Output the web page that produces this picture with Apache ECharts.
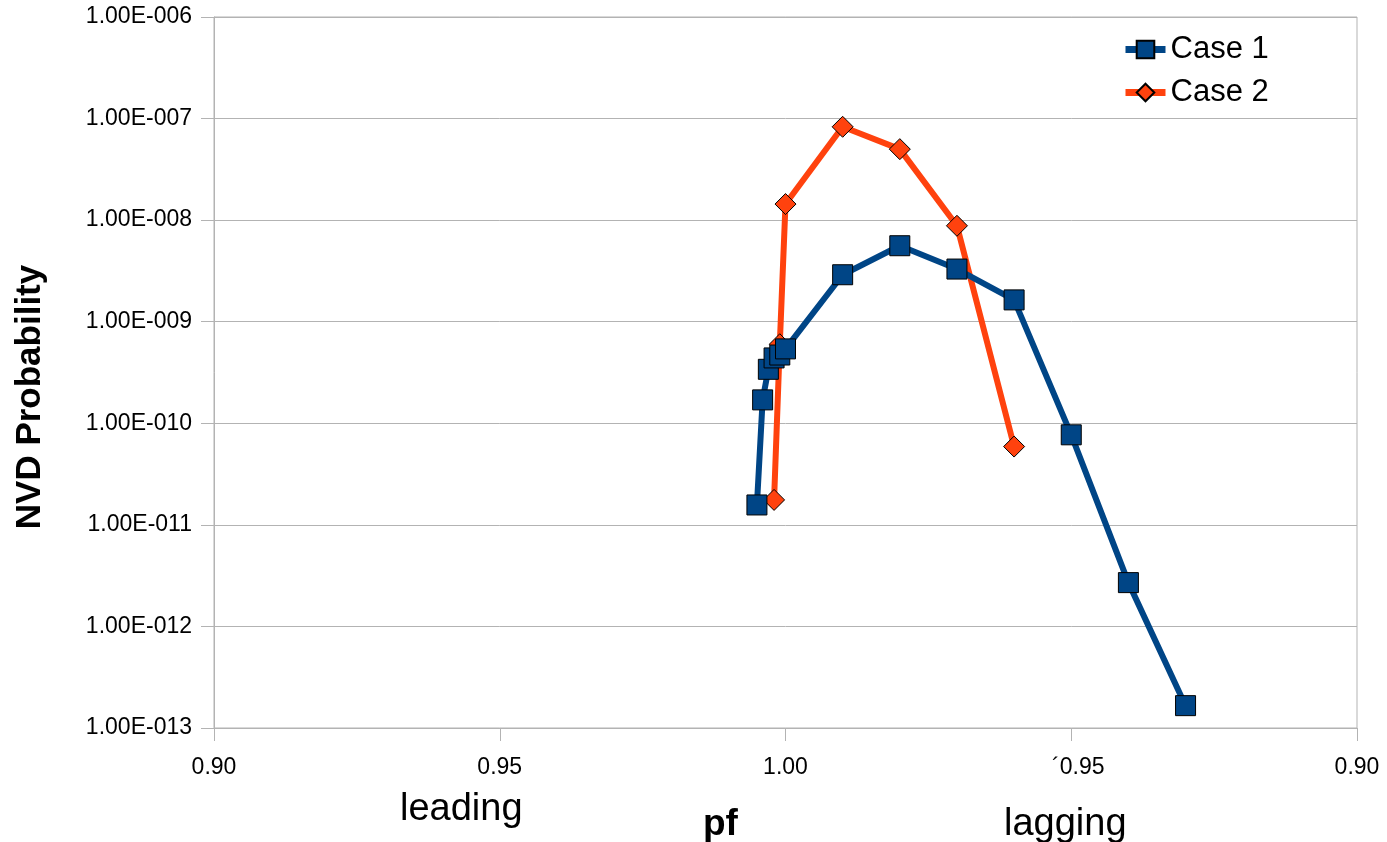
<!DOCTYPE html>
<html>
<head>
<meta charset="utf-8">
<script src="https://cdn.jsdelivr.net/npm/echarts@6/dist/echarts.min.js"></script>
<style>
html,body{margin:0;padding:0;background:#fff;}
#chart{width:1387px;height:842px;}
</style>
</head>
<body>
<div id="chart"></div>
<script>
// ---- data ----
// power factor values and whether each point is on the lagging side
var case1Pf      = [0.995, 0.996, 0.997, 0.998, 0.999, 1.00, 0.99, 0.98, 0.97, 0.96, 0.95, 0.94, 0.93];
var case1Lagging = [false, false, false, false, false, false, true, true, true, true, true, true, true];
var case1Prob    = [1.57e-11, 1.7e-10, 3.4e-10, 4.4e-10, 4.7e-10, 5.4e-10, 2.9e-9, 5.6e-9, 3.3e-9, 1.64e-9, 7.7e-11, 2.7e-12, 1.66e-13];

var case2Pf      = [0.998, 0.999, 1.00, 0.99, 0.98, 0.97, 0.96];
var case2Lagging = [false, false, false, true, true, true, true];
var case2Prob    = [1.76e-11, 6.0e-10, 1.44e-8, 8.3e-8, 5.0e-8, 8.8e-9, 5.9e-11];

var seriesNames  = ['Case 1', 'Case 2'];
var xTickLabels  = ['0.90', '0.95', '1.00', '´0.95', '0.90'];
var yTickExps    = [-13, -12, -11, -10, -9, -8, -7, -6];
var yTitle       = 'NVD Probability';
var xTitle       = 'pf';
var leadLabel    = 'leading';
var lagLabel     = 'lagging';

// ---- build ----
function toX(pf, lag){ var d = 1 - pf; return lag ? d : -d; }
function build(pf, lag, prob){
  return pf.map(function(p, i){ return [toX(p, lag[i]), prob[i]]; });
}
var FONT = '"Liberation Sans", Arial, sans-serif';
var chart = echarts.init(document.getElementById('chart'), null, {renderer:'canvas'});
chart.setOption({
  backgroundColor:'#ffffff',
  animation:false,
  grid:{left:214, right:30, top:17, bottom:114, show:true, borderColor:'#b3b3b3', borderWidth:1},
  legend:{
    left:1117, top:29, orient:'vertical', itemGap:12,
    itemWidth:40, itemHeight:22,
    lineStyle:{width:7},
    textStyle:{fontFamily:FONT, fontSize:31, color:'#000'},
    data:seriesNames
  },
  xAxis:{
    type:'value', min:-0.1, max:0.1, interval:0.05,
    axisLine:{show:true, onZero:false, lineStyle:{color:'#b3b3b3', width:1}},
    axisTick:{show:true, inside:false, length:13, lineStyle:{color:'#b3b3b3'}},
    splitLine:{show:false},
    axisLabel:{
      margin:28, fontFamily:FONT, fontSize:23, color:'#000',
      formatter:function(v){
        var idx = Math.round((v + 0.1) / 0.05);
        var t = xTickLabels[idx];
        if (t === undefined) return '';
        return idx === 3 ? '{lag|' + t + '}' : t;
      },
      rich:{lag:{fontFamily:FONT, fontSize:23, color:'#000', padding:[0,0,0,14]}}
    }
  },
  yAxis:{
    type:'log', logBase:10, min:1e-13, max:1e-6,
    axisLine:{show:true, onZero:false, lineStyle:{color:'#b3b3b3', width:1}},
    axisTick:{show:true, length:13, lineStyle:{color:'#b3b3b3'}},
    minorTick:{show:false},
    splitLine:{show:true, lineStyle:{color:'#b3b3b3', width:1}},
    axisLabel:{
      margin:22, fontFamily:FONT, fontSize:23, color:'#000',
      formatter:function(v){
        var e = Math.round(Math.log10(v));
        if (yTickExps.indexOf(e) < 0) return '';
        var s = String(Math.abs(e)); while (s.length < 3) s = '0' + s;
        return '1.00E' + (e < 0 ? '-' : '+') + s;
      }
    }
  },
  graphic:[
    {type:'text', x:30, y:397, rotation:Math.PI/2,
     style:{text:yTitle, font:'bold 35px ' + FONT, fill:'#000', align:'center', verticalAlign:'middle'}},
    {type:'text', left:400, top:791, style:{text:leadLabel, font:'38px ' + FONT, fill:'#000'}},
    {type:'text', left:703, top:806, style:{text:xTitle, font:'bold 37px ' + FONT, fill:'#000'}},
    {type:'text', left:1004, top:806, style:{text:lagLabel, font:'38px ' + FONT, fill:'#000'}}
  ],
  series:[
    {
      name:seriesNames[1], type:'line', z:2,
      data:build(case2Pf, case2Lagging, case2Prob),
      symbol:'diamond', symbolSize:21,
      lineStyle:{color:'#ff420e', width:6},
      itemStyle:{color:'#ff420e', borderColor:'#000', borderWidth:1},
      emphasis:{disabled:true}
    },
    {
      name:seriesNames[0], type:'line', z:3,
      data:build(case1Pf, case1Lagging, case1Prob),
      symbol:'rect', symbolSize:20,
      lineStyle:{color:'#004586', width:6},
      itemStyle:{color:'#004586', borderColor:'#000', borderWidth:1},
      emphasis:{disabled:true}
    }
  ]
});
</script>
</body>
</html>
